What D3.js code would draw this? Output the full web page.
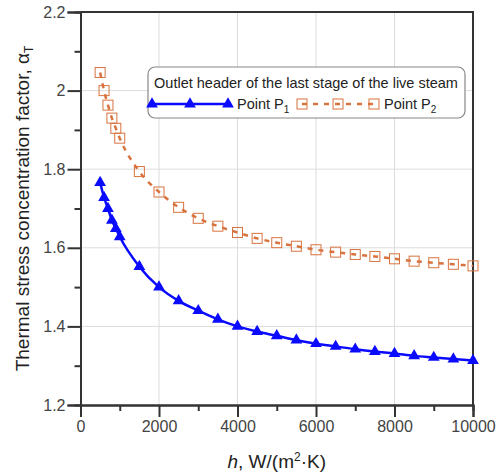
<!DOCTYPE html>
<html>
<head>
<meta charset="utf-8">
<script src="https://cdn.jsdelivr.net/npm/d3@7"></script>
<style>
  body { margin: 0; background: #fff; }
  svg { font-family: "Liberation Sans", Arial, sans-serif; }
</style>
</head>
<body>
<svg id="chart" width="498" height="476"></svg>
<script>
// Heat transfer coefficient h, W/(m2K)
var hValues = [500, 600, 700, 800, 900, 1000, 1500, 2000, 2500, 3000, 3500, 4000,
               4500, 5000, 5500, 6000, 6500, 7000, 7500, 8000, 8500, 9000, 9500, 10000];

// Point P1 (solid blue, triangles)
var p1Values = [1.766, 1.728, 1.700, 1.670, 1.649, 1.628, 1.552, 1.500, 1.465, 1.440, 1.418, 1.400,
                1.387, 1.376, 1.365, 1.356, 1.349, 1.342, 1.336, 1.331, 1.325, 1.321, 1.317, 1.313];

// Point P2 (dashed orange, squares)
var p2Values = [2.046, 2.000, 1.963, 1.930, 1.904, 1.879, 1.794, 1.742, 1.703, 1.675, 1.655, 1.639,
                1.624, 1.613, 1.604, 1.595, 1.589, 1.583, 1.578, 1.572, 1.566, 1.562, 1.558, 1.554];

var xTicks = [0, 2000, 4000, 6000, 8000, 10000];
var xMinorTicks = [1000, 3000, 5000, 7000, 9000];
var yTicks = [1.2, 1.4, 1.6, 1.8, 2.0, 2.2];
var yMinorTicks = [1.3, 1.5, 1.7, 1.9, 2.1];

var legendTitle = "Outlet header of the last stage of the live steam";
var seriesNames = ["Point P", "Point P"];
var seriesSubs = ["1", "2"];

var blue = "#0a0aff";
var orange = "#d8733f";

var svg = d3.select("#chart");
var margin = {top: 12, right: 25, bottom: 71, left: 80.5};
var width = 498, height = 476;

var xScale = d3.scaleLinear()
               .domain([0, 10000])
               .range([margin.left, width - margin.right]);
var yScale = d3.scaleLinear()
               .domain([1.2, 2.2])
               .range([height - margin.bottom, margin.top]);

// Grid lines
var grid = svg.append("g").attr("stroke", "#dcdcdc").attr("stroke-width", 1);
grid.selectAll(".vgrid")
    .data(xTicks.slice(1, -1))
    .enter().append("line")
    .attr("x1", d => xScale(d)).attr("x2", d => xScale(d))
    .attr("y1", yScale(1.2)).attr("y2", yScale(2.2));
grid.selectAll(".hgrid")
    .data(yTicks.slice(1, -1))
    .enter().append("line")
    .attr("x1", xScale(0)).attr("x2", xScale(10000))
    .attr("y1", d => yScale(d)).attr("y2", d => yScale(d));

// Frame (top and right)
svg.append("path")
   .attr("d", "M" + xScale(0) + "," + yScale(2.2) + "H" + xScale(10000) + "V" + yScale(1.2))
   .attr("fill", "none")
   .attr("stroke", "#333")
   .attr("stroke-width", 2);

// Axes
svg.append("g")
   .attr("transform", "translate(0," + yScale(1.2) + ")")
   .call(d3.axisBottom(xScale).tickValues(xTicks).tickSize(12).tickPadding(4).tickFormat(d3.format("d")));
svg.append("g")
   .attr("transform", "translate(0," + yScale(1.2) + ")")
   .call(d3.axisBottom(xScale).tickValues(xMinorTicks).tickSize(6).tickFormat(""));
svg.append("g")
   .attr("transform", "translate(" + xScale(0) + ",0)")
   .call(d3.axisLeft(yScale).tickValues(yTicks).tickSize(13).tickPadding(2).tickFormat(d => d === 2 ? "2" : d3.format(".1f")(d)));
svg.append("g")
   .attr("transform", "translate(" + xScale(0) + ",0)")
   .call(d3.axisLeft(yScale).tickValues(yMinorTicks).tickSize(6).tickFormat(""));

svg.selectAll(".domain").attr("stroke", "#333").attr("stroke-width", 2);
svg.selectAll(".tick line").attr("stroke", "#333").attr("stroke-width", 2);
svg.selectAll(".tick text").attr("fill", "#444").style("font-size", "16px");

// Axis titles
var xTitle = svg.append("text")
   .attr("x", (xScale(0) + xScale(10000)) / 2)
   .attr("y", 468)
   .attr("text-anchor", "middle")
   .attr("fill", "#222")
   .style("font-size", "19px");
xTitle.append("tspan").style("font-style", "italic").text("h");
xTitle.append("tspan").text(", W/(m");
xTitle.append("tspan").attr("dy", -7).style("font-size", "12px").text("2");
xTitle.append("tspan").attr("dy", 7).text("\u00b7K)");

var yTitle = svg.append("text")
   .attr("transform", "translate(29," + ((yScale(1.2) + yScale(2.2)) / 2) + ") rotate(-90)")
   .attr("text-anchor", "middle")
   .attr("fill", "#222")
   .style("font-size", "19px");
yTitle.append("tspan").text("Thermal stress concentration factor, \u03b1");
yTitle.append("tspan").attr("dy", 4).style("font-size", "12px").text("T");

// Series
var p1 = hValues.map((h, i) => ({h: h, v: p1Values[i]}));
var p2 = hValues.map((h, i) => ({h: h, v: p2Values[i]}));
var line = d3.line().x(d => xScale(d.h)).y(d => yScale(d.v)).curve(d3.curveMonotoneX);

svg.append("path")
   .datum(p2)
   .attr("d", line)
   .attr("fill", "none")
   .attr("stroke", orange)
   .attr("stroke-width", 2.5)
   .attr("stroke-dasharray", "5,6");
svg.selectAll(".sq")
   .data(p2)
   .enter().append("rect")
   .attr("x", d => xScale(d.h) - 5)
   .attr("y", d => yScale(d.v) - 5)
   .attr("width", 10).attr("height", 10)
   .attr("fill", "none")
   .attr("stroke", orange)
   .attr("stroke-width", 1);

svg.append("path")
   .datum(p1)
   .attr("d", line)
   .attr("fill", "none")
   .attr("stroke", blue)
   .attr("stroke-width", 2.5);
var tri = d3.symbol().type(d3.symbolTriangle).size(60);
svg.selectAll(".tri")
   .data(p1)
   .enter().append("path")
   .attr("d", tri)
   .attr("transform", d => "translate(" + xScale(d.h) + "," + yScale(d.v) + ")")
   .attr("fill", blue);

// Legend
var legend = svg.append("g").attr("transform", "translate(148,67)");
legend.append("rect")
   .attr("width", 317).attr("height", 51)
   .attr("rx", 7)
   .attr("fill", "#fff")
   .attr("stroke", "#888")
   .attr("stroke-width", 1.2);
legend.append("text")
   .attr("x", 158).attr("y", 21)
   .attr("text-anchor", "middle")
   .attr("fill", "#222")
   .style("font-size", "14.5px")
   .text(legendTitle);

legend.append("line")
   .attr("x1", 4).attr("x2", 80).attr("y1", 37).attr("y2", 37)
   .attr("stroke", blue).attr("stroke-width", 2.5);
legend.selectAll(".ltri")
   .data([4, 42, 80])
   .enter().append("path")
   .attr("d", tri)
   .attr("transform", d => "translate(" + d + ",37)")
   .attr("fill", blue);
var l1 = legend.append("text").attr("x", 89).attr("y", 42).attr("fill", "#222").style("font-size", "14.5px");
l1.append("tspan").text(seriesNames[0]);
l1.append("tspan").attr("dy", 4).style("font-size", "10px").text(seriesSubs[0]);

legend.append("line")
   .attr("x1", 154).attr("x2", 226).attr("y1", 37).attr("y2", 37)
   .attr("stroke", orange).attr("stroke-width", 2.5)
   .attr("stroke-dasharray", "5,6");
legend.selectAll(".lsq")
   .data([154, 190, 226])
   .enter().append("rect")
   .attr("x", d => d - 5).attr("y", 32)
   .attr("width", 10).attr("height", 10)
   .attr("fill", "none")
   .attr("stroke", orange).attr("stroke-width", 1);
var l2 = legend.append("text").attr("x", 236).attr("y", 42).attr("fill", "#222").style("font-size", "14.5px");
l2.append("tspan").text(seriesNames[1]);
l2.append("tspan").attr("dy", 4).style("font-size", "10px").text(seriesSubs[1]);
</script>
</body>
</html>
